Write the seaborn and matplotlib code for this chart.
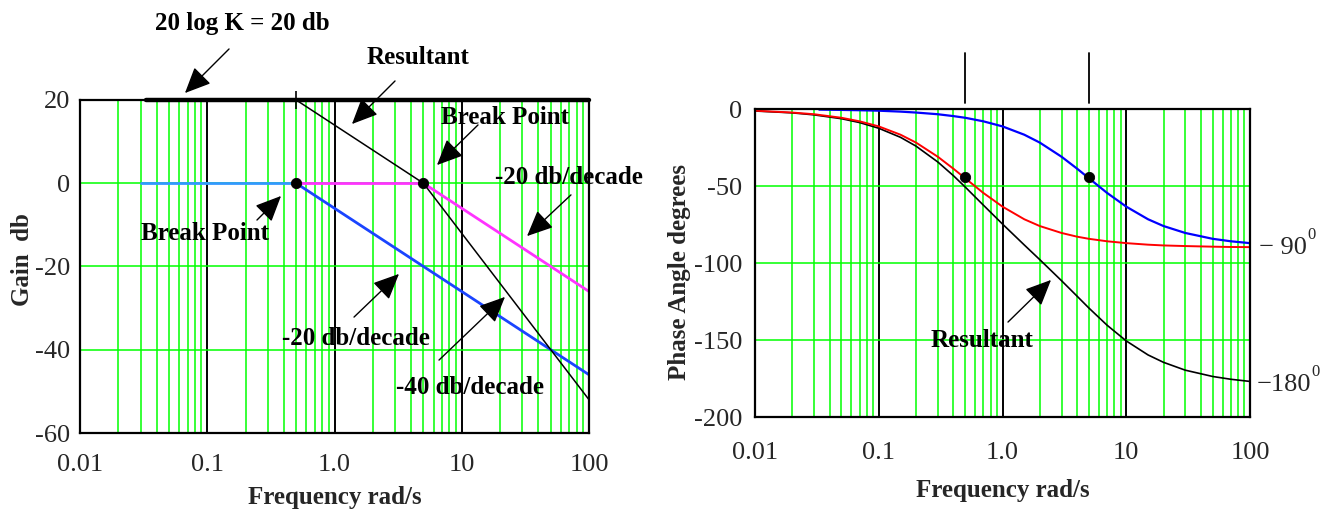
import numpy as np
import pandas as pd
import matplotlib
matplotlib.use("Agg")
import matplotlib.pyplot as plt
import seaborn as sns
from matplotlib.ticker import LogLocator, FixedLocator, FixedFormatter, NullFormatter

# ---------------- data ----------------
freq_ticks = [0.01, 0.1, 1, 10, 100]
freq_tick_labels = ["0.01", "0.1", "1.0", "10", "100"]
gain_ticks = [20, 0, -20, -40, -60]
gain_tick_labels = ["20", "0", "-20", "-40", "-60"]
phase_ticks = [0, -50, -100, -150, -200]
phase_tick_labels = ["0", "-50", "-100", "-150", "-200"]

# magnitude asymptotes
gainK_freq = [0.033, 100]
gainK_db = [20, 20]
pole1_freq = [0.03, 0.5, 100]
pole1_db = [0, 0, -46]
pole2_freq = [0.5, 5, 100]
pole2_db = [0, 0, -26]
result_freq = [0.5, 5, 100]
result_db = [20, 0, -52]
break_freq = [0.5, 5]
break_db = [0, 0]

# phase curves
phase_freq = [0.01, 0.02, 0.03, 0.05, 0.07, 0.1, 0.15, 0.2, 0.3, 0.4, 0.5, 0.7,
              1.0, 1.5, 2, 3, 4, 5, 7, 10, 15, 20, 30, 50, 70, 100]
phase_red = [-1.1, -2.3, -3.4, -5.7, -8.0, -11.3, -16.7, -21.8, -31.0, -38.7, -45.0, -54.5,
             -63.4, -71.6, -76.0, -80.5, -82.9, -84.3, -85.9, -87.1, -88.1, -88.6, -89.0, -89.4, -89.6, -89.7]
phase_black = [-1.3, -2.5, -3.8, -6.3, -8.8, -12.5, -18.4, -24.1, -34.4, -43.2, -50.7, -62.4,
               -74.7, -88.3, -97.8, -111.5, -121.5, -129.3, -140.4, -150.6, -159.7, -164.5, -169.6, -173.7, -175.5, -176.9]
phase_blue_freq = [0.033, 0.05, 0.07, 0.1, 0.15, 0.2, 0.3, 0.4, 0.5, 0.7, 1.0, 1.5, 2, 3, 4, 5,
                   7, 10, 15, 20, 30, 50, 70, 100]
phase_blue = [-0.4, -0.6, -0.8, -1.1, -1.7, -2.3, -3.4, -4.6, -5.7, -8.0, -11.3, -16.7, -21.8, -31.0,
              -38.7, -45.0, -54.5, -63.4, -71.6, -76.0, -80.5, -84.3, -85.9, -87.1]
phase_dot_freq = [0.5, 5]
phase_dot_deg = [-44, -44]

# ---------------- style ----------------
sns.set_style("white")
plt.rcParams['font.family'] = ['Liberation Serif', 'DejaVu Serif']
plt.rcParams['axes.unicode_minus'] = False

W, H = 1332, 511
fig = plt.figure(figsize=(W / 100, H / 100), dpi=100)

GREEN = "#00ff00"
FS = 18
TFS = 19


def px(x, y):
    """top-left pixel -> figure pixels"""
    return (x, H - y)


def line(ax, x, y, color, lw, **kw):
    df = pd.DataFrame({"f": x, "v": y})
    sns.lineplot(data=df, x="f", y="v", ax=ax, color=color, linewidth=lw,
                 estimator=None, sort=False, **kw)


def style_axis(ax, ylim, yticks, ylabels, xpad, ypad):
    ax.set_xscale('log')
    ax.set_xlim(0.01, 100)
    ax.set_ylim(*ylim)
    ax.xaxis.set_major_locator(FixedLocator(freq_ticks))
    ax.xaxis.set_major_formatter(FixedFormatter(freq_tick_labels))
    ax.xaxis.set_minor_locator(LogLocator(base=10, subs=np.arange(2, 10), numticks=100))
    ax.xaxis.set_minor_formatter(NullFormatter())
    ax.yaxis.set_major_locator(FixedLocator(yticks))
    ax.yaxis.set_major_formatter(FixedFormatter(ylabels))
    ax.grid(True, which='minor', axis='x', color=GREEN, lw=1.1)
    ax.grid(True, which='major', axis='x', color='black', lw=1.4)
    ax.grid(True, which='major', axis='y', color=GREEN, lw=1.1)
    ax.set_axisbelow(True)
    ax.tick_params(which='both', length=0, labelsize=TFS)
    ax.tick_params(axis='x', pad=xpad)
    ax.tick_params(axis='y', pad=ypad)
    for s in ax.spines.values():
        s.set_color('black')
        s.set_linewidth(1.6)
        s.set_visible(True)


def arrow_text(text, tpos, tail, head, fs=FS):
    fig.text(*[t / d for t, d in zip(px(*tpos), (W, H))], text, ha='center', va='center',
             fontsize=fs, fontweight='bold', color='black')
    fig.add_artist(matplotlib.patches.FancyArrowPatch(
        px(*tail), px(*head), transform=None,
        arrowstyle="-|>,head_length=1.0,head_width=0.45", mutation_scale=16,
        color='black', lw=1.0))


# ---------------- left: gain ----------------
axL = fig.add_axes([80 / W, (H - 433) / H, 509 / W, 333 / H])
line(axL, gainK_freq, gainK_db, 'black', 3.2, clip_on=False)
line(axL, pole1_freq[:2], pole1_db[:2], '#3399ff', 2.0)
line(axL, pole1_freq[1:], pole1_db[1:], '#1a44ff', 2.0)
line(axL, pole2_freq[:2], pole2_db[:2], '#ff33ff', 2.0)
line(axL, pole2_freq[1:], pole2_db[1:], '#ff33ff', 2.0)
line(axL, result_freq, result_db, 'black', 1.1)
sns.scatterplot(x=break_freq, y=break_db, ax=axL, color='black', s=55, zorder=5, edgecolor='black')
sns.scatterplot(x=result_freq[:1], y=result_db[:1], ax=axL, color='black', marker='|', s=160,
                linewidth=1.2, zorder=5, clip_on=False)
style_axis(axL, (-60, 20), gain_ticks, gain_tick_labels, xpad=15, ypad=7)
axL.set_xlabel("Frequency rad/s", fontsize=FS, fontweight='bold')
axL.set_ylabel("Gain  db", fontsize=FS, fontweight='bold')
axL.xaxis.set_label_coords(0.5, -0.16)
axL.yaxis.set_label_coords(-0.09, 0.52)

# ---------------- right: phase ----------------
axR = fig.add_axes([755 / W, (H - 417) / H, 495 / W, 308 / H])
line(axR, phase_freq, phase_black, 'black', 1.2)
line(axR, phase_freq, phase_red, '#ff0000', 1.4)
line(axR, phase_blue_freq, phase_blue, '#0000ff', 1.6)
sns.scatterplot(x=phase_dot_freq, y=phase_dot_deg, ax=axR, color='black', s=55, zorder=5, edgecolor='black')
for f in break_freq:
    axR.axvline(f, ymin=1.019, ymax=1.182, color='black', lw=1.3, clip_on=False)
style_axis(axR, (-200, 0), phase_ticks, phase_tick_labels, xpad=18, ypad=9)
axR.set_xlabel("Frequency rad/s", fontsize=FS, fontweight='bold')
axR.set_ylabel("Phase Angle degrees", fontsize=FS, fontweight='bold')
axR.xaxis.set_label_coords(0.5, -0.2)
axR.yaxis.set_label_coords(-0.13, 0.47)

# asymptote labels on the right
tr = matplotlib.transforms.blended_transform_factory(axR.transAxes, axR.transData)
axR.text(1.018, -90, "\u2212 90", transform=tr, fontsize=TFS, va='center', ha='left')
axR.text(1.115, -82, "0", transform=tr, fontsize=12, va='center', ha='left')
axR.text(1.014, -179, "\u2212180", transform=tr, fontsize=TFS, va='center', ha='left')
axR.text(1.124, -171, "0", transform=tr, fontsize=12, va='center', ha='left')

# ---------------- annotations ----------------
arrow_text("20 log K = 20 db", (242, 23), (231, 47), (183, 95))
arrow_text("Resultant", (418, 58), (397, 79), (350, 126))
arrow_text("Break Point", (505, 117), (480, 123), (435, 167))
arrow_text("-20 db/decade", (569, 178), (573, 193), (525, 238))
arrow_text("Break Point", (205, 233), (255, 222), (283, 194))
arrow_text("-20 db/decade", (356, 338), (352, 319), (401, 272))
arrow_text("-40 db/decade", (470, 387), (437, 362), (507, 295))
arrow_text("Resultant", (982, 340), (1006, 324), (1053, 278))

fig.savefig("out.png", dpi=100)
